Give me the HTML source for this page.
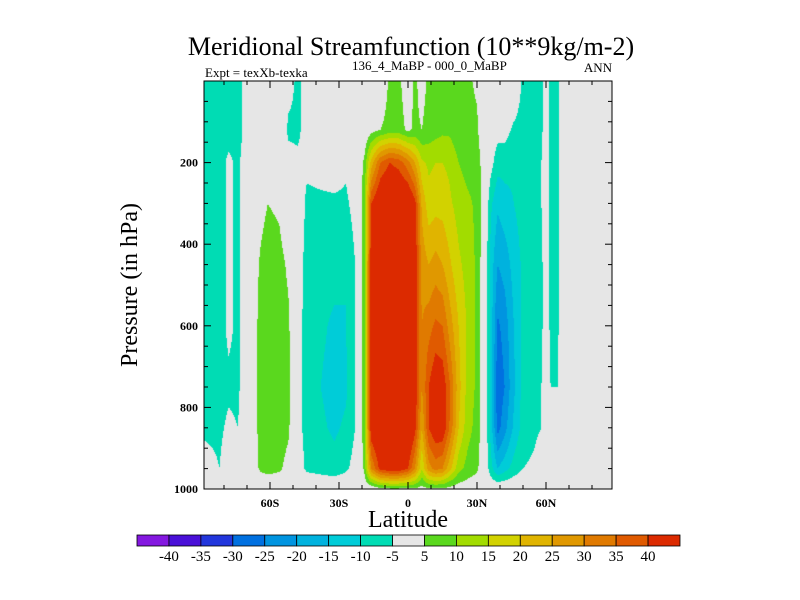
<!DOCTYPE html>
<html><head><meta charset="utf-8"><style>
body{margin:0;background:#fff;}
#wrap{position:relative;width:800px;height:600px;overflow:hidden;font-family:"Liberation Serif",serif;color:#000;}
</style></head><body>
<div id="wrap">
<svg id="svg" width="800" height="600" style="position:absolute;left:0;top:0">
<text x="411" y="55" font-size="26" text-anchor="middle">Meridional Streamfunction (10**9kg/m-2)</text>
<text x="205" y="77" font-size="13">Expt = texXb-texka</text>
<text x="352" y="70" font-size="13">136_4_MaBP - 000_0_MaBP</text>
<text x="612" y="72" font-size="13" text-anchor="end">ANN</text>
<text x="0" y="0" font-size="24" text-anchor="middle" transform="translate(137,285) rotate(-90)">Pressure (in hPa)</text>
<text x="408" y="527" font-size="24" text-anchor="middle">Latitude</text>
<foreignObject x="204" y="81" width="408" height="408"><canvas xmlns="http://www.w3.org/1999/xhtml" id="cv" width="408" height="408"></canvas></foreignObject>
<g id="axes"></g>
<g id="cbar"></g>
</svg>
</div>
<script>
const latitudes=[-88,-82,-78,-74,-70,-64,-61,-56,-52,-48,-44,-38,-32,-27,-23,-19,-16,-12,-8,-4,0,3,6,9,12,15,18,22,26,30,33,36,39,42,46,50,55,58,60,62,65,68,88];
const pressures=[0,120,200,300,450,600,750,850,950,1000];
const psi=[
[-7,-7,-7,-7,-7,-7,-7,-6,-3,0],
[-7,-7,-7,-7,-7,-7,-7,-6,-5,0],
[-7,-7,-4,-4,-4,-4,-6,-4,-2,0],
[-7,-7,-6,-6,-6,-6,-6,-5,-3,0],
[-3,-3,-2,-1,-1,-1,-1,-1,0,0],
[0,0,1,3,6,7,7,7,6,0],
[0,0,2,5,8,8,8,8,7,0],
[0,0,2,4,7,8,8,8,6,0],
[-3,-6,-3,0,4,6,7,6,3,0],
[-6,-6,-4,-1,-2,-3,-3,-3,-2,0],
[-3,-3,-4,-6,-7,-7,-7,-7,-6,0],
[0,0,-3,-6,-8,-9,-10,-9,-7,0],
[0,0,-2,-6,-8,-11,-12,-11,-8,0],
[0,0,-4,-6,-10,-10,-11,-9,-6,0],
[0,0,-1,-3,-5,-5,-5,-5,-3,0],
[0,0,6,8,8,8,8,8,6,0],
[0,3,22,40,45,45,45,45,30,0],
[0,5,35,48,50,50,50,50,42,3],
[6,7,40,50,55,55,55,55,45,4],
[6,7,38,50,55,55,55,55,45,4],
[2,4,32,48,50,50,50,50,40,4],
[6,6,25,42,45,45,45,42,30,4],
[3,5,16,24,28,30,30,25,15,3],
[6,7,14,17,25,33,40,40,28,4],
[7,8,15,18,27,36,45,45,32,4],
[8,9,15,18,25,35,44,45,30,4],
[8,9,14,16,21,28,36,35,22,3],
[6,7,10,13,16,20,22,20,12,2],
[6,7,8,11,13,14,13,12,8,2],
[4,6,8,9,9,9,9,8,6,1],
[0,0,2,2,1,1,1,1,1,0],
[0,-1,-3,-9,-12,-12,-12,-12,-8,0],
[0,-3,-8,-14,-20,-26,-29,-27,-15,0],
[0,-3,-8,-12,-18,-23,-25,-22,-12,0],
[0,-6,-9,-10,-13,-15,-16,-14,-8,0],
[-6,-7,-8,-8,-9,-9,-8,-8,-5,0],
[-7,-7,-7,-6,-7,-7,-6,-6,-4,0],
[-6,-6,-5,-5,-6,-6,-5,-5,-2,0],
[-2,-2,-2,-2,-2,-2,-2,-2,-1,0],
[-6,-6,-6,-6,-6,-6,-5,-5,-1,0],
[-6,-6,-6,-6,-6,-6,-5,-2,0,0],
[0,0,0,0,0,0,0,0,0,0],
[0,0,0,0,0,0,0,0,0,0]];
const levels=[-40,-35,-30,-25,-20,-15,-10,-5,5,10,15,20,25,30,35,40];
const levelColors=["#8418e0","#4a10d8","#2236dc","#0070e0","#0094e0","#00b2de","#00ccd8","#00dcb4","#e6e6e6","#5ad81e","#a2dc00","#d2d200","#e0b400","#e09800","#e07a00","#e05a00","#dc2a00"];
const yTicks=[200,400,600,800,1000];
const xTicks=[-60,-30,0,30,60];
const xTickLabels=["60S","30S","0","30N","60N"];

const X0=204,Y0=81,W=408,H=408;
const xScale=lat=>X0+W/2+lat*(W/2)/88.7;
const yScale=p=>Y0+p*H/1000;
const xInv=px=>(px-X0-W/2)*88.7/(W/2);
const yInv=py=>(py-Y0)*1000/H;
function idx(arr,v){let i=0;while(i<arr.length-2&&v>arr[i+1])i++;return i;}
function val(lat,p){
  lat=Math.max(latitudes[0],Math.min(latitudes[latitudes.length-1],lat));
  const i=idx(latitudes,lat),j=idx(pressures,p);
  const tx=(lat-latitudes[i])/(latitudes[i+1]-latitudes[i]);
  const ty=(p-pressures[j])/(pressures[j+1]-pressures[j]);
  const a=psi[i][j],b=psi[i+1][j],c=psi[i][j+1],d=psi[i+1][j+1];
  return (a*(1-tx)+b*tx)*(1-ty)+(c*(1-tx)+d*tx)*ty;
}
const cv=document.getElementById('cv'),ctx=cv.getContext('2d');
const rgb=levelColors.map(h=>[parseInt(h.slice(1,3),16),parseInt(h.slice(3,5),16),parseInt(h.slice(5,7),16)]);
const img=ctx.createImageData(W,H);
for(let py=0;py<H;py++){for(let px=0;px<W;px++){
  const v=val(xInv(X0+px+0.5),yInv(Y0+py+0.5));
  let k=0;while(k<levels.length&&v>=levels[k])k++;
  const o=(py*W+px)*4;img.data[o]=rgb[k][0];img.data[o+1]=rgb[k][1];img.data[o+2]=rgb[k][2];img.data[o+3]=255;}}
ctx.putImageData(img,0,0);

const NS='http://www.w3.org/2000/svg';
function mk(tag,attrs,parent){const e=document.createElementNS(NS,tag);for(const k in attrs)e.setAttribute(k,attrs[k]);parent.appendChild(e);return e;}
const axes=document.getElementById('axes');
const frame=mk('rect',{x:X0,y:Y0,width:W,height:H,fill:'none',stroke:'#000','stroke-width':1},axes);


for(let p=50;p<=1000;p+=50){
  const y=yScale(p),len=(p%200===0)?7:4;
  const t1=mk('line',{x1:X0,x2:X0+len,y1:y,y2:y,stroke:'#000'},axes);
  
  
  const t2=mk('line',{x1:X0+W,x2:X0+W-len,y1:y,y2:y,stroke:'#000'},axes);
  
  
}
yTicks.forEach(p=>{
  const t=mk('text',{x:X0-6,y:yScale(p)+4,'font-size':12,'text-anchor':'end','font-weight':'bold'},axes);t.textContent=p;
  
  
});
for(let lat=-80;lat<=80;lat+=10){
  const x=xScale(lat),len=(lat%30===0)?7:4;
  const t1=mk('line',{x1:x,x2:x,y1:Y0+H,y2:Y0+H-len,stroke:'#000'},axes);
  
  
  const t2=mk('line',{x1:x,x2:x,y1:Y0,y2:Y0+len,stroke:'#000'},axes);
  
  
}
xTicks.forEach((lat,i)=>{
  const t=mk('text',{x:xScale(lat),y:Y0+H+18,'font-size':12,'text-anchor':'middle','font-weight':'bold'},axes);t.textContent=xTickLabels[i];
  
  
});
const cb=document.getElementById('cbar');
const CBX=137,CBW=543,CBY=535,CBH=11,bw=CBW/levelColors.length;
levelColors.forEach((c,i)=>{
  const r=mk('rect',{x:CBX+i*bw,y:CBY,width:bw,height:CBH,fill:c,stroke:'#000','stroke-width':0.8},cb);
  
  
});
levels.forEach((l,i)=>{
  const t=mk('text',{x:CBX+(i+1)*bw,y:CBY+CBH+15,'font-size':15,'text-anchor':'middle'},cb);t.textContent=l;
  
  
});
</script>
</body></html>
